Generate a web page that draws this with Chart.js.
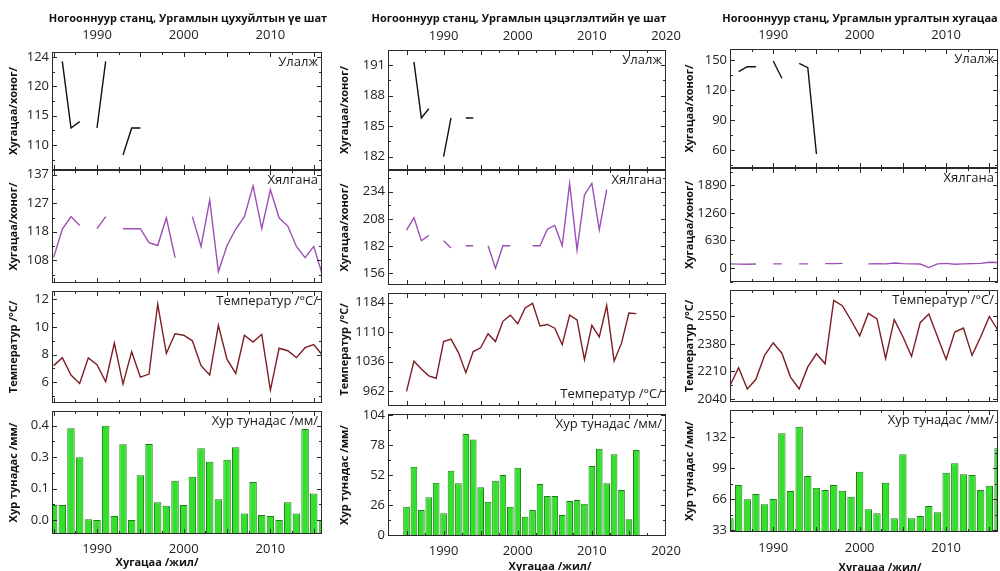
<!DOCTYPE html>
<html lang="mn">
<head>
<meta charset="UTF-8">
<title>Ногооннуур станц</title>
<script src="https://cdn.jsdelivr.net/npm/chart.js@4.4.1/dist/chart.umd.min.js"></script>
<style>
  body { margin: 0; background: #fff; width: 1000px; height: 571px; position: relative; overflow: hidden; font-family: 'Open Sans', sans-serif; color: #111; }
  canvas { position: absolute; }
  .txt { position: absolute; white-space: nowrap; font-weight: bold; transform: translate(-50%, -50%); }
</style>
</head>
<body>
<script>
const years = [1985, 1986, 1987, 1988, 1989, 1990, 1991, 1992, 1993, 1994, 1995, 1996, 1997, 1998, 1999, 2000,
               2001, 2002, 2003, 2004, 2005, 2006, 2007, 2008, 2009, 2010, 2011, 2012, 2013, 2014, 2015, 2016];

// Цухуйлтын үе шат
const p1Ulalj = [null, 123.3, 112.7, 113.7, null, 112.7, 123.3, null, 108.4, 112.7, 112.7, null, null, null, null, null,
                 null, null, null, null, null, null, null, null, null, null, null, null, null, null, null, null];
const p1Hyal = [109, 118.6, 122.8, 119.8, null, 118.7, 122.8, null, 118.7, 118.7, 118.7, 114.0, 113.0, 122.4, 108.9, null,
                122.8, 112.7, 128.4, 104.1, 113.0, 118.6, 122.8, 133.2, 118.7, 131.9, 122.4, 119.6, 112.7, 108.9, 112.7, 103];
const p1Temp = [7.2, 7.78, 6.52, 5.91, 7.76, 7.26, 6.03, 8.84, 5.86, 8.21, 6.36, 6.59, 11.66, 8.09, 9.51, 9.4,
                9.0, 7.2, 6.52, 10.12, 7.65, 6.64, 9.4, 8.91, 9.47, 5.42, 8.46, 8.28, 7.78, 8.5, 8.73, 7.95];
const p1Prec = [0.064, 0.064, 0.389, 0.266, 0.003, 0.0, 0.40, 0.017, 0.321, 0.0, 0.19, 0.322, 0.075, 0.061, 0.167, 0.064,
                0.184, 0.304, 0.247, 0.088, 0.256, 0.308, 0.028, 0.161, 0.021, 0.017, 0.0, 0.075, 0.028, 0.386, 0.113, 0.0];

// Цэцэглэлтийн үе шат
const p2Ulalj = [null, 191.3, 185.8, 186.7, null, 182.0, 185.8, null, 185.8, 185.8, null, null, null, null, null, null,
                 null, null, null, null, null, null, null, null, null, null, null, null, null, null, null, null];
const p2Hyal = [197.1, 209.1, 186.9, 192, null, 186.9, 180, null, 182, 182, null, 182, 160.5, 182, 182, null,
                null, 182, 182, 198, 201.6, 182, 242, 177.9, 231, 242, 197.4, 236, null, null, null, null];
const p2Temp = [962, 1037.5, 1018, 1000.8, 994.7, 1086.5, 1092.8, 1059, 1008.7, 1061.5, 1070.9, 1106, 1086.5, 1137.2, 1152.7, 1131,
                1170.6, 1182.3, 1125.5, 1129.3, 1120, 1078.8, 1152.7, 1141, 1041.4, 1127, 1098, 1177, 1037.5, 1082.6, 1158, 1156.6];
const p2Prec = [24.5, 59.2, 21.7, 32.7, 45.3, 18.8, 55.7, 44.8, 87.5, 82.9, 41.3, 28.9, 47.1, 52, 24.5, 58.3,
                15.9, 21.7, 44.2, 33.8, 33.8, 17.3, 29.5, 30.3, 27.1, 59.8, 74.8, 44.8, 69.9, 39, 13.6, 73.7];

// Ургалтын хугацаа
const p3Ulalj = [null, 138.3, 143.3, 143.3, null, 149, 131.7, null, 146.7, 142.3, 56, null, null, null, null, null,
                 null, null, null, null, null, null, null, null, null, null, null, null, null, null, null, null];
const p3Hyal = [95, 88, 85, 90, null, 95, 95, null, 95, 95, null, 100, 100, 105, null, null,
                95, 100, 95, 115, 100, 95, 90, 10, 95, 105, 85, 95, 100, 105, 130, 125];
const p3Temp = [2123, 2232.5, 2101.7, 2161, 2309, 2385.8, 2322.4, 2175, 2101.7, 2238, 2319, 2257, 2649, 2616, 2526, 2430,
                2568.5, 2534, 2290, 2530, 2424, 2303, 2511, 2564.5, 2424, 2284, 2453, 2478, 2309, 2424, 2549.5, 2463];
const p3Prec = [45.5, 81, 65.8, 71.5, 60.5, 66.1, 136.3, 74.7, 143.4, 90.7, 78.2, 75.7, 81, 75, 68.6, 95.3,
                55.1, 50.8, 83.5, 45.5, 113.9, 45.5, 48, 58.6, 51.9, 94.2, 104.3, 92.5, 91.8, 75.7, 80.3, 120.3];

// tick labels
const p1UlaljTicks = ['110', '115', '120', '124'];
const p1HyalTicks = ['108', '118', '127', '137'];
const p1TempTicks = ['6', '8', '10', '12'];
const p1PrecTicks = ['0.0', '0.1', '0.3', '0.4'];
const p2UlaljTicks = ['182', '185', '188', '191'];
const p2HyalTicks = ['156', '182', '208', '234'];
const p2TempTicks = ['962', '1036', '1110', '1184'];
const p2PrecTicks = ['0', '26', '52', '78', '104'];
const p3UlaljTicks = ['60', '90', '120', '150'];
const p3HyalTicks = ['0', '630', '1260', '1890'];
const p3TempTicks = ['2040', '2210', '2380', '2550'];
const p3PrecTicks = ['33', '66', '99', '132'];
const p1YearTicks = [1990, 2000, 2010];
const p2YearTicks = [1990, 2000, 2010, 2020];
const p3YearTicks = [1990, 2000, 2010];

const titles = ['Ногооннуур станц, Ургамлын цухуйлтын үе шат',
                'Ногооннуур станц, Ургамлын цэцэглэлтийн үе шат',
                'Ногооннуур станц, Ургамлын ургалтын хугацаа'];
const xTitle = 'Хугацаа /жил/';
const tDays = 'Хугацаа/хоног/', tTemp = 'Температур /°C/', tPrec = 'Хур тунадас /мм/';

const BLACK = '#111', PURPLE = '#9d4fb5', RED = '#7d1d24';
const TICKFONT = { family: "'Open Sans', sans-serif", size: 13 };

const panels = [
  { left: 52, right: 322, axisW: 52, titlePad: 7, xMin: 1984.81, xMax: 2015.95, xTicks: p1YearTicks,
    topPad: 9, botPad: 7, barPct: 0.86, title: [188, 17], xt: [157, 561],
    rows: [
      { top: 52, bottom: 170, kind: 'line', data: p1Ulalj, color: BLACK, min: 106.0, max: 124.8, ticks: p1UlaljTicks, yt: tDays, tag: 'Улалж' },
      { top: 170, bottom: 291, kind: 'line', data: p1Hyal, color: PURPLE, min: 100.3, max: 138.6, ticks: p1HyalTicks, yt: tDays, tag: 'Хялгана' },
      { top: 291, bottom: 411, kind: 'line', data: p1Temp, color: RED, min: 4.49, max: 12.61, ticks: p1TempTicks, yt: tTemp, tag: tTemp },
      { top: 411, bottom: 534, kind: 'bar', data: p1Prec, min: -0.059, max: 0.462, ticks: p1PrecTicks, yt: tPrec, tag: tPrec }
    ] },
  { left: 388, right: 666, axisW: 50, titlePad: 0, xMin: 1982.5, xMax: 2020, xTicks: p2YearTicks,
    topPad: 6, botPad: 7, barPct: 0.9, title: [519, 17], xt: [550, 565],
    rows: [
      { top: 50, bottom: 170, kind: 'line', data: p2Ulalj, color: BLACK, min: 180.69, max: 192.47, ticks: p2UlaljTicks, yt: tDays, tag: 'Улалж' },
      { top: 170, bottom: 293, kind: 'line', data: p2Hyal, color: PURPLE, min: 144.3, max: 254.96, ticks: p2HyalTicks, yt: tDays, tag: 'Хялгана' },
      { top: 293, bottom: 414, kind: 'line', data: p2Temp, color: RED, min: 925.3, max: 1208.1, ticks: p2TempTicks, yt: tTemp, tag: tTemp, tagBottom: true },
      { top: 414, bottom: 536, kind: 'bar', data: p2Prec, min: -0.87, max: 104.9, ticks: p2PrecTicks, yt: tPrec, tag: tPrec }
    ] },
  { left: 730, right: 998, axisW: 47, titlePad: 0, xMin: 1985, xMax: 2016, xTicks: p3YearTicks,
    topPad: 6, botPad: 8, barPct: 0.85, title: [860, 17], xt: [880, 566],
    rows: [
      { top: 49, bottom: 168, kind: 'line', data: p3Ulalj, color: BLACK, min: 42, max: 161, ticks: p3UlaljTicks, yt: tDays, tag: 'Улалж' },
      { top: 168, bottom: 290, kind: 'line', data: p3Hyal, color: PURPLE, min: -321, max: 2290, ticks: p3HyalTicks, yt: tDays, tag: 'Хялгана' },
      { top: 290, bottom: 410, kind: 'line', data: p3Temp, color: RED, min: 2021, max: 2713, ticks: p3TempTicks, yt: tTemp, tag: tTemp },
      { top: 410, bottom: 532, kind: 'bar', data: p3Prec, min: 30.9, max: 161.2, ticks: p3PrecTicks, yt: tPrec, tag: tPrec }
    ] }
];

// frame with inward ticks + label in the corner
const frameTicks = {
  id: 'frameTicks',
  afterDraw(chart, args, opts) {
    const { ctx, chartArea: a, scales: { x, y } } = chart;
    ctx.save();
    ctx.strokeStyle = '#2a2a2a';
    ctx.lineWidth = 1;
    ctx.strokeRect(a.left + 0.5, a.top + 0.5, a.right - a.left - 1, a.bottom - a.top - 1);
    ctx.beginPath();
    for (let k = 0; k <= 16; k++) {
      const t = 1980 + k * 2.5;
      if (t <= x.min || t >= x.max) continue;
      const px = Math.round(x.getPixelForValue(t)) + 0.5;
      const len = k % 2 === 0 ? 5 : 3;
      ctx.moveTo(px, a.top); ctx.lineTo(px, a.top + len);
      ctx.moveTo(px, a.bottom); ctx.lineTo(px, a.bottom - len);
    }
    const tv = y.ticks.map(t => t.value);
    const step = tv[1] - tv[0];
    for (let k = -6; k <= tv.length * 2 + 6; k++) {
      const v = tv[0] + k * step / 2;
      if (v <= y.min || v >= y.max) continue;
      const py = Math.round(y.getPixelForValue(v)) + 0.5;
      const len = k % 2 === 0 ? 5 : 3;
      ctx.moveTo(a.left, py); ctx.lineTo(a.left + len, py);
      ctx.moveTo(a.right, py); ctx.lineTo(a.right - len, py);
    }
    ctx.stroke();
    ctx.fillStyle = '#1a1a1a';
    ctx.font = "13px 'Open Sans', sans-serif";
    ctx.textAlign = 'right';
    ctx.textBaseline = 'middle';
    ctx.fillText(opts.tag, a.right - 4, opts.bottom ? a.bottom - 12 : a.top + 10);
    ctx.restore();
  }
};

function evenTicks(labels) {
  const a = parseFloat(labels[0]), b = parseFloat(labels[labels.length - 1]);
  return labels.map((_, i) => a + (b - a) * i / (labels.length - 1));
}

function makeRow(panel, row, idx) {
  const isTop = idx === 0, isBottom = idx === panel.rows.length - 1;
  const padR = 16;
  const cLeft = panel.left - panel.axisW;
  const cTop = isTop ? 20 : row.top - 8;
  const cBottom = isBottom ? 571 : row.bottom + 8;
  const cv = document.createElement('canvas');
  cv.width = panel.right - cLeft + padR;
  cv.height = cBottom - cTop;
  cv.style.left = cLeft + 'px';
  cv.style.top = cTop + 'px';
  document.body.appendChild(cv);

  const tickVals = evenTicks(row.ticks);
  const pts = years.map((yr, i) => ({ x: yr, y: row.data[i] }));
  const ds = row.kind === 'bar'
    ? { type: 'bar', data: pts, backgroundColor: '#33e02b', borderColor: '#1d7f16', borderWidth: 1,
        base: row.min, barPercentage: panel.barPct, categoryPercentage: 1 }
    : { type: 'line', data: pts, borderColor: row.color, borderWidth: 1.4, pointRadius: 0,
        spanGaps: false, tension: 0 };

  new Chart(cv, {
    type: row.kind,
    data: { datasets: [ds] },
    options: {
      responsive: false,
      animation: false,
      events: [],
      layout: { padding: { left: 0, right: padR, top: isTop ? 0 : 8, bottom: isBottom ? 0 : 8 } },
      plugins: {
        legend: { display: false },
        tooltip: { enabled: false },
        frameTicks: { tag: row.tag, bottom: !!row.tagBottom }
      },
      scales: {
        x: {
          type: 'linear', min: panel.xMin, max: panel.xMax, offset: false,
          position: isTop ? 'top' : 'bottom',
          display: isTop || isBottom,
          grid: { display: false, drawTicks: false },
          border: { display: false },
          ticks: { font: TICKFONT, color: '#222', padding: isTop ? panel.topPad : panel.botPad,
                   maxRotation: 0, autoSkip: false, callback: v => String(v) },
          afterBuildTicks: s => { s.ticks = panel.xTicks.map(v => ({ value: v })); },
          afterFit: s => {
            s.height = isTop ? row.top - cTop : cBottom - row.bottom;
            s.paddingLeft = 0; s.paddingRight = 0;
          }
        },
        y: {
          type: 'linear', min: row.min, max: row.max, position: 'left',
          grid: { display: false, drawTicks: false },
          border: { display: false },
          ticks: { font: TICKFONT, color: '#222', padding: 3, autoSkip: false,
                   callback: (v, i) => row.ticks[i] },
          afterBuildTicks: s => { s.ticks = tickVals.map(v => ({ value: v })); },
          afterFit: s => { s.width = panel.axisW; s.paddingTop = 0; s.paddingBottom = 0; },
          title: { display: true, text: row.yt, color: '#111',
                   font: { family: "'Open Sans', sans-serif", size: 11, weight: 'bold' },
                   padding: { top: panel.titlePad, bottom: 0 } }
        }
      }
    },
    plugins: [frameTicks]
  });
}

function addText(str, x, y, size) {
  const d = document.createElement('div');
  d.className = 'txt';
  d.style.left = x + 'px';
  d.style.top = y + 'px';
  d.style.fontSize = size + 'px';
  d.textContent = str;
  document.body.appendChild(d);
}

panels.forEach((p, pi) => {
  p.rows.forEach((r, i) => makeRow(p, r, i));
  addText(titles[pi], p.title[0], p.title[1], 11);
  addText(xTitle, p.xt[0], p.xt[1], 11);
});
</script>
</body>
</html>
